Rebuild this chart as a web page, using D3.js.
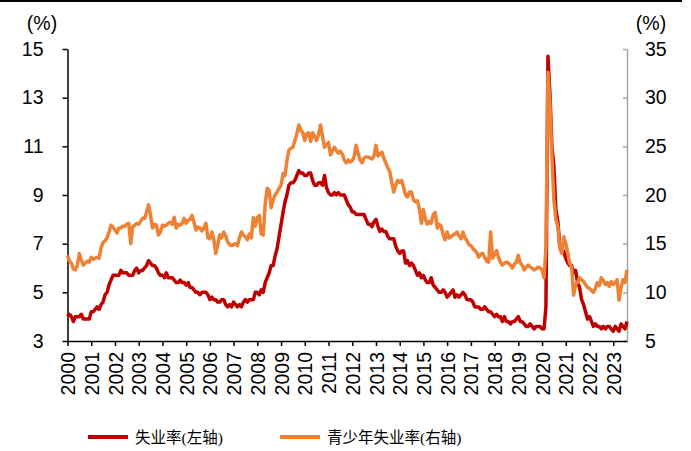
<!DOCTYPE html>
<html lang="zh">
<head>
<meta charset="UTF-8">
<title>失业率与青少年失业率</title>
<script src="https://cdn.jsdelivr.net/npm/d3@7/dist/d3.min.js"></script>
<style>
  body { margin: 0; background: #fff; }
  text { font-family: "Liberation Sans", Arial, sans-serif; }
</style>
</head>
<body>
<svg id="chart" width="691" height="451"></svg>
<script>
// monthly, Jan 2000 - Aug 2023
const unemp = [
  4.0,4.1,4.0,3.8,4.0,4.0,4.0,4.1,3.9,3.9,3.9,3.9,
  4.2,4.2,4.3,4.4,4.3,4.5,4.6,4.9,5.0,5.3,5.5,5.7,
  5.7,5.7,5.7,5.9,5.8,5.8,5.8,5.7,5.7,5.7,5.9,6.0,
  5.8,5.9,5.9,6.0,6.1,6.3,6.2,6.1,6.1,6.0,5.8,5.7,
  5.7,5.6,5.8,5.6,5.6,5.6,5.5,5.4,5.4,5.5,5.4,5.4,
  5.3,5.4,5.2,5.2,5.1,5.0,5.0,4.9,5.0,5.0,5.0,4.9,
  4.7,4.8,4.7,4.7,4.6,4.6,4.7,4.7,4.5,4.4,4.5,4.4,
  4.6,4.5,4.4,4.5,4.4,4.6,4.7,4.6,4.7,4.7,4.7,5.0,
  5.0,4.9,5.1,5.0,5.4,5.6,5.8,6.1,6.1,6.5,6.8,7.3,
  7.8,8.3,8.7,9.0,9.4,9.5,9.5,9.6,9.8,10.0,9.9,9.9,
  9.8,9.8,9.9,9.9,9.6,9.4,9.4,9.5,9.5,9.4,9.8,9.3,
  9.1,9.0,9.0,9.1,9.0,9.1,9.0,9.0,9.0,8.8,8.6,8.5,
  8.3,8.3,8.2,8.2,8.2,8.2,8.2,8.0,7.8,7.8,7.7,7.9,
  8.0,7.7,7.5,7.6,7.5,7.5,7.3,7.2,7.2,7.2,6.9,6.7,
  6.6,6.7,6.7,6.2,6.3,6.1,6.2,6.1,5.9,5.7,5.8,5.6,
  5.7,5.5,5.4,5.4,5.6,5.3,5.2,5.1,5.0,5.0,5.1,5.0,
  4.8,4.9,5.0,5.1,4.8,4.9,4.8,4.9,5.0,4.9,4.7,4.7,
  4.7,4.6,4.4,4.4,4.4,4.3,4.3,4.4,4.3,4.2,4.2,4.1,
  4.0,4.1,4.0,4.0,3.8,4.0,3.8,3.8,3.7,3.8,3.8,3.9,
  4.0,3.8,3.8,3.7,3.6,3.6,3.7,3.6,3.5,3.6,3.6,3.6,
  3.5,3.5,4.4,14.7,13.2,11.0,10.2,8.4,7.9,6.9,6.7,6.7,
  6.4,6.2,6.1,6.1,5.8,5.9,5.4,5.2,4.7,4.5,4.2,3.9,
  4.0,3.8,3.6,3.7,3.6,3.6,3.5,3.6,3.5,3.6,3.6,3.5,
  3.4,3.6,3.5,3.4,3.7,3.6,3.5,3.8
];
const youth = [
  13.8,13.2,13.0,12.4,12.3,12.8,14.0,13.3,12.8,13.0,13.2,13.1,
  13.6,13.4,13.5,13.6,13.5,14.6,15.1,15.3,15.6,16.2,16.9,16.7,
  16.4,16.1,16.6,16.6,16.8,16.8,17.0,17.1,15.0,16.7,16.9,17.1,
  17.0,17.3,17.6,17.6,18.2,19.0,18.0,16.6,17.0,16.9,15.9,16.2,
  16.9,16.8,16.9,17.1,17.2,17.0,17.7,16.6,17.0,16.9,17.1,17.6,
  17.1,17.4,17.5,17.9,17.2,16.4,16.7,16.6,16.3,16.6,17.1,15.6,
  15.5,16.2,15.5,14.0,14.8,15.9,15.6,16.2,15.8,15.2,14.9,14.8,
  14.9,15.0,14.8,15.6,16.2,15.9,15.7,15.4,16.0,15.6,17.7,16.8,
  17.7,17.9,16.0,15.9,19.0,20.7,20.5,18.7,19.5,20.0,20.3,20.7,
  21.0,22.2,22.0,23.5,24.6,24.8,24.9,25.6,26.3,27.2,26.7,26.4,
  25.6,26.3,26.4,25.5,26.4,26.0,25.6,26.2,27.2,26.0,24.9,25.2,
  25.4,24.1,24.5,24.9,24.6,24.3,24.5,24.2,23.6,23.3,23.6,23.4,
  23.5,24.0,25.1,24.3,23.6,23.3,23.8,23.9,23.9,23.8,23.7,24.0,
  25.1,24.0,24.2,24.4,23.8,23.3,22.8,22.4,21.3,20.3,21.0,21.5,
  21.3,21.5,20.8,20.0,19.8,20.3,20.3,19.5,19.3,19.4,18.5,17.1,
  18.5,17.5,17.0,17.3,17.1,18.0,18.2,16.6,17.0,16.8,15.9,15.4,
  16.2,15.6,15.7,15.9,16.0,16.2,15.8,15.5,16.2,15.6,15.3,14.9,
  14.8,14.5,14.3,14.1,13.6,13.9,14.0,13.6,13.2,13.1,16.2,13.5,
  13.9,14.3,13.6,13.1,12.8,13.0,13.1,13.0,12.8,12.5,12.9,13.1,
  13.8,13.0,12.8,12.3,12.6,12.8,12.6,12.5,12.3,12.4,12.6,12.5,
  12.3,11.5,14.5,32.6,29.5,24.0,19.5,17.5,16.7,14.5,14.0,15.7,
  15.0,14.0,13.0,12.6,9.7,10.8,11.0,11.5,11.3,11.1,10.8,10.5,
  10.4,10.2,10.0,10.4,11.0,10.7,11.5,11.2,10.8,11.0,10.6,11.1,
  10.8,11.0,11.3,9.2,10.5,11.3,11.0,12.3
];
const yearTicks = ["2000","2001","2002","2003","2004","2005","2006","2007","2008","2009","2010","2011",
                   "2012","2013","2014","2015","2016","2017","2018","2019","2020","2021","2022","2023"];
const leftTicks = [3, 5, 7, 9, 11, 13, 15];
const rightTicks = [5, 10, 15, 20, 25, 30, 35];
const seriesNames = ["失业率(左轴)", "青少年失业率(右轴)"];

const months = d3.timeMonth.range(new Date(2000, 0, 1), new Date(2023, 8, 1));

const svg = d3.select("#chart");
const plotLeft = 67.5, plotRight = 627, plotTop = 49, plotBottom = 341;

const x = d3.scaleTime().domain([new Date(2000, 0, 1), new Date(2023, 7, 1)]).range([plotLeft, plotRight]);
const yL = d3.scaleLinear().domain([3, 15]).range([plotBottom, plotTop]);
const yR = d3.scaleLinear().domain([5, 35]).range([plotBottom, plotTop]);

// top rule
svg.append("rect").attr("x", 0).attr("y", 0).attr("width", 682).attr("height", 2).attr("fill", "#000");

// left axis
const gL = svg.append("g").attr("transform", `translate(${plotLeft},0)`)
  .call(d3.axisLeft(yL).tickValues(leftTicks).tickSize(5).tickSizeOuter(0));
gL.select(".domain").attr("stroke", "#000").attr("stroke-width", 1.5);
gL.selectAll(".tick line").attr("stroke", "#000").attr("stroke-width", 1.5);
gL.selectAll(".tick text").attr("x", -24).attr("font-size", 19.5).attr("fill", "#000");

// right axis (ticks pointing inward)
const gR = svg.append("g").attr("transform", `translate(${plotRight},0)`)
  .call(d3.axisLeft(yR).tickValues(rightTicks).tickSize(4).tickSizeOuter(0));
gR.select(".domain").attr("stroke", "#a6a6a6").attr("stroke-width", 1.5);
gR.selectAll(".tick line").attr("stroke", "#a6a6a6").attr("stroke-width", 1.5);
gR.selectAll(".tick text").attr("x", 18).attr("text-anchor", "start").attr("font-size", 19.5).attr("fill", "#000");

// x axis
const yearDates = yearTicks.map(y => new Date(+y, 0, 1));
const gX = svg.append("g").attr("transform", `translate(0,${plotBottom})`)
  .call(d3.axisBottom(x).tickValues(yearDates).tickFormat((d, i) => yearTicks[i]).tickSize(5).tickSizeOuter(0));
gX.select(".domain").attr("stroke", "#000").attr("stroke-width", 1.5);
gX.selectAll(".tick line").attr("stroke", "#000").attr("stroke-width", 1.5);
gX.selectAll(".tick text")
  .attr("font-size", 19.5).attr("fill", "#000")
  .attr("transform", "rotate(-90)")
  .attr("text-anchor", "end")
  .attr("x", -11).attr("y", 0).attr("dy", "0.36em");

// unit labels
svg.append("text").attr("x", 42).attr("y", 30).attr("text-anchor", "middle")
  .attr("font-size", 19.5).text("(%)");
svg.append("text").attr("x", 651).attr("y", 30).attr("text-anchor", "middle")
  .attr("font-size", 19.5).text("(%)");

// lines
const lineL = d3.line().x((d, i) => x(months[i])).y(d => yL(d));
const lineR = d3.line().x((d, i) => x(months[i])).y(d => yR(d));
svg.append("path").datum(unemp).attr("d", lineL)
  .attr("fill", "none").attr("stroke", "#c00000").attr("stroke-width", 3.5).attr("stroke-linejoin", "round");
svg.append("path").datum(youth).attr("d", lineR)
  .attr("fill", "none").attr("stroke", "#ee8134").attr("stroke-width", 3.5).attr("stroke-linejoin", "round");

// legend
const legend = [
  { name: seriesNames[0], color: "#c00000", x: 88 },
  { name: seriesNames[1], color: "#ee8134", x: 280 }
];
const lg = svg.append("g");
legend.forEach(d => {
  lg.append("line").attr("x1", d.x).attr("x2", d.x + 40).attr("y1", 437).attr("y2", 437)
    .attr("stroke", d.color).attr("stroke-width", 4);
  lg.append("text").attr("x", d.x + 47).attr("y", 443)
    .style("font-size", "15.5px")
    .style("font-family", "'Liberation Serif', 'Noto Sans CJK SC', serif")
    .attr("fill", "#000").text(d.name);
});
</script>
</body>
</html>
